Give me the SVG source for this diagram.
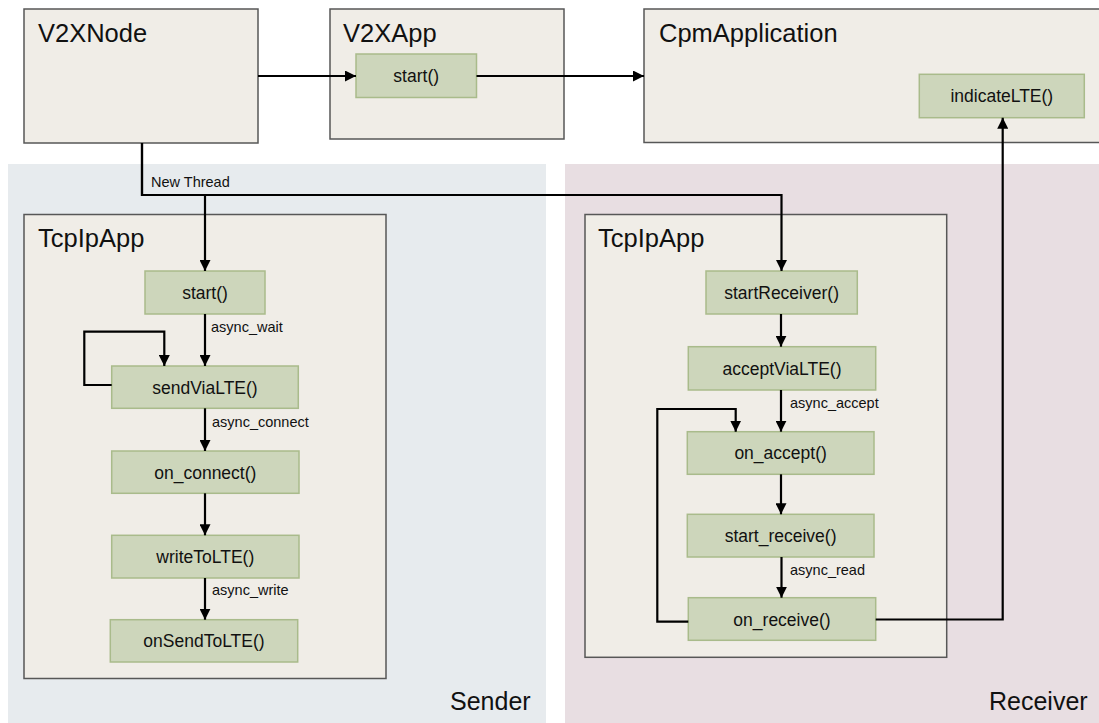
<svg xmlns="http://www.w3.org/2000/svg" width="1099" height="723" viewBox="0 0 1099 723">
<defs>
<marker id="arr" viewBox="0 0 10 10" refX="10" refY="5" markerWidth="5" markerHeight="5" orient="auto" markerUnits="strokeWidth">
<path d="M0,0 L10,5 L0,10 Z" fill="#000"/>
</marker>
</defs>
<style>
text{font-family:"Liberation Sans",Arial,Helvetica,sans-serif;fill:#111}
.zone-s{fill:#e7ebee}
.zone-r{fill:#e8dee2}
.cont{fill:#f0ede7;stroke:#575757;stroke-width:1.5}
.fn{fill:#cdd6bb;stroke:#a9bb8b;stroke-width:1.5}
.title{font-size:25.5px}
.zone{font-size:25px}
.fnt{font-size:17.5px;text-anchor:middle}
.lbl{font-size:14.5px}
.edge{fill:none;stroke:#000;stroke-width:2.2;stroke-linejoin:miter}
.arrow{marker-end:url(#arr)}
</style>
<rect width="1099" height="723" fill="#ffffff"/>

<g id="zone-sender">
<rect class="zone-s" x="8" y="164" width="538" height="559"/>
<text class="zone" x="450" y="710">Sender</text>
</g>
<g id="zone-receiver">
<rect class="zone-r" x="565" y="164" width="534" height="559"/>
<text class="zone" x="989" y="710">Receiver</text>
</g>

<g id="V2XNode">
<rect class="cont" x="24" y="9" width="234" height="134"/>
<text class="title" x="38" y="42">V2XNode</text>
</g>
<g id="V2XApp">
<rect class="cont" x="330" y="9" width="234" height="130"/>
<text class="title" x="343" y="42">V2XApp</text>
</g>
<g id="V2XApp-start">
<rect class="fn" x="356" y="54" width="120.5" height="43.5"/>
<text class="fnt" x="416.2" y="82">start()</text>
</g>
<g id="CpmApplication">
<rect class="cont" x="644" y="9" width="470" height="133.5"/>
<text class="title" x="659" y="42">CpmApplication</text>
</g>
<g id="indicateLTE">
<rect class="fn" x="919.3" y="74.3" width="165" height="43.4"/>
<text class="fnt" x="1001.8" y="102">indicateLTE()</text>
</g>

<g id="TcpIpApp-sender">
<rect class="cont" x="24" y="214.5" width="362" height="464"/>
<text class="title" x="38" y="247">TcpIpApp</text>
</g>
<g id="sender-start">
<rect class="fn" x="145" y="271" width="120" height="43"/>
<text class="fnt" x="205" y="299">start()</text>
</g>
<g id="sendViaLTE">
<rect class="fn" x="111.7" y="366" width="186.6" height="42.3"/>
<text class="fnt" x="205" y="393.5">sendViaLTE()</text>
</g>
<g id="on_connect">
<rect class="fn" x="111.7" y="451" width="187.3" height="42.3"/>
<text class="fnt" x="205.3" y="478.5">on_connect()</text>
</g>
<g id="writeToLTE">
<rect class="fn" x="111.7" y="535.3" width="187.3" height="42.7"/>
<text class="fnt" x="205.3" y="563">writeToLTE()</text>
</g>
<g id="onSendToLTE">
<rect class="fn" x="110.3" y="619.7" width="187.4" height="42.3"/>
<text class="fnt" x="204" y="647">onSendToLTE()</text>
</g>

<g id="TcpIpApp-receiver">
<rect class="cont" x="585" y="214.5" width="361.7" height="442.8"/>
<text class="title" x="598" y="247">TcpIpApp</text>
</g>
<g id="startReceiver">
<rect class="fn" x="706" y="271" width="151.3" height="43"/>
<text class="fnt" x="781.6" y="299">startReceiver()</text>
</g>
<g id="acceptViaLTE">
<rect class="fn" x="688.3" y="346.7" width="187.4" height="43.3"/>
<text class="fnt" x="782" y="374.5">acceptViaLTE()</text>
</g>
<g id="on_accept">
<rect class="fn" x="687.3" y="431.7" width="186.7" height="42.6"/>
<text class="fnt" x="780.6" y="459">on_accept()</text>
</g>
<g id="start_receive">
<rect class="fn" x="687.3" y="514.3" width="186.7" height="42.7"/>
<text class="fnt" x="780.6" y="542">start_receive()</text>
</g>
<g id="on_receive">
<rect class="fn" x="688.3" y="597.7" width="187.4" height="42.6"/>
<text class="fnt" x="782" y="625.5">on_receive()</text>
</g>

<g id="connectors">
<path class="edge arrow" d="M258,76 H356"/>
<path class="edge arrow" d="M476.5,76 H644"/>
<path class="edge arrow" d="M142,143 V195 H781.5 V271"/>
<path class="edge arrow" d="M142,143 V195 H205 V271"/>
<text class="lbl" x="151" y="187">New Thread</text>
<path class="edge arrow" d="M205,314 V366"/>
<text class="lbl" x="211" y="332">async_wait</text>
<path class="edge arrow" d="M111.7,385 H84.3 V331.7 H164.3 V366"/>
<path class="edge arrow" d="M205,408.3 V451"/>
<text class="lbl" x="212" y="427">async_connect</text>
<path class="edge arrow" d="M205,493.3 V535.3"/>
<path class="edge arrow" d="M205,578 V619.7"/>
<text class="lbl" x="212" y="595">async_write</text>
<path class="edge arrow" d="M781,314 V346.7"/>
<path class="edge arrow" d="M781,390 V431.7"/>
<text class="lbl" x="790" y="408">async_accept</text>
<path class="edge arrow" d="M781,474.3 V514.3"/>
<path class="edge arrow" d="M781.5,557 V597.7"/>
<text class="lbl" x="790" y="575">async_read</text>
<path class="edge arrow" d="M688.3,621.7 H657.3 V409 H735.7 V431.7"/>
<path class="edge arrow" d="M875.7,619.5 H1002.7 V117.7"/>
</g>
</svg>
